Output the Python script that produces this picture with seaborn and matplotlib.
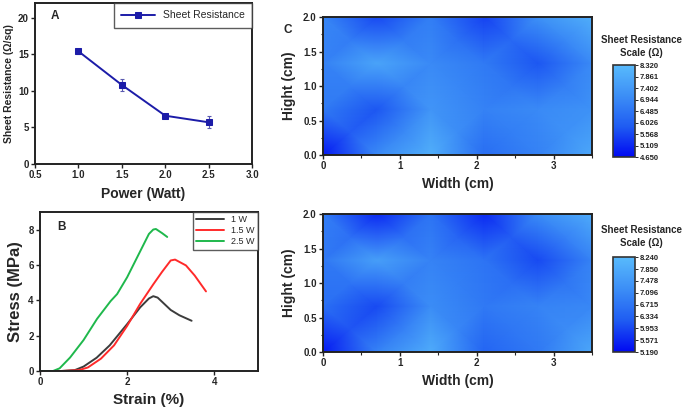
import numpy as np
import pandas as pd
import matplotlib
matplotlib.use('Agg')
import matplotlib.pyplot as plt
from matplotlib.colors import LinearSegmentedColormap
from matplotlib.ticker import AutoMinorLocator
import seaborn as sns

# Panel A - sheet resistance vs power
power = [1.0, 1.5, 2.0, 2.5]
sheet_res = [15.4, 10.8, 6.6, 5.7]
sheet_err = [0.3, 0.8, 0.2, 0.8]

# Panel B - stress-strain curves
strain_1w = [0.0, 0.5, 0.8, 1.0, 1.3, 1.6, 2.0, 2.3, 2.5, 2.6, 2.7, 2.85, 3.0, 3.2, 3.48]
stress_1w = [0.0, 0.0, 0.05, 0.25, 0.75, 1.45, 2.65, 3.6, 4.1, 4.23, 4.15, 3.8, 3.45, 3.15, 2.84]
strain_15w = [0.0, 0.5, 0.9, 1.1, 1.4, 1.7, 2.0, 2.3, 2.6, 2.8, 3.0, 3.1, 3.35, 3.55, 3.81]
stress_15w = [0.0, 0.0, 0.05, 0.2, 0.7, 1.45, 2.55, 3.8, 4.9, 5.6, 6.25, 6.3, 5.97, 5.4, 4.5]
strain_25w = [0.0, 0.3, 0.45, 0.69, 1.0, 1.31, 1.62, 1.77, 2.0, 2.31, 2.5, 2.6, 2.66, 2.8, 2.92]
stress_25w = [0.0, 0.0, 0.15, 0.76, 1.75, 2.95, 3.95, 4.35, 5.3, 6.82, 7.75, 8.0, 8.03, 7.8, 7.58]

# Panel C - sheet resistance maps
width_pts = [0.0, 0.7, 1.4, 2.1, 2.8, 3.5]
hight_pts = [0.0, 0.667, 1.333, 2.0]
map_top = [[4.9, 7.0, 8.0, 6.3, 6.8, 7.8],
           [6.6, 5.8, 7.3, 6.8, 7.0, 7.2],
           [6.8, 7.7, 7.0, 6.6, 5.8, 7.0],
           [6.9, 5.6, 6.7, 5.5, 7.2, 8.0]]
map_bottom = [[5.4, 7.0, 7.9, 6.4, 6.8, 7.8],
              [6.6, 6.0, 7.2, 6.8, 7.0, 7.1],
              [6.8, 7.6, 7.0, 6.7, 6.0, 7.0],
              [6.9, 5.6, 6.7, 5.6, 7.2, 7.9]]
range_top = (4.650, 8.320)
range_bottom = (5.190, 8.240)
ticks_top = ['4.650', '5.109', '5.568', '6.026', '6.485', '6.944', '7.402', '7.861', '8.320']
ticks_bottom = ['5.190', '5.571', '5.953', '6.334', '6.715', '7.096', '7.478', '7.850', '8.240']

sns.set_style('ticks')
plt.rcParams['font.family'] = ['Liberation Sans', 'DejaVu Sans']
plt.rcParams['xtick.direction'] = 'out'
plt.rcParams['ytick.direction'] = 'out'

fig = plt.figure(figsize=(6.85, 4.07), dpi=100)

def style_axes(ax, tick_size=7):
    for s in ax.spines.values():
        s.set_linewidth(1.4)
        s.set_color('#222222')
    ax.tick_params(labelsize=tick_size, width=1.0, length=3, color='#222222', pad=1.5)
    ax.tick_params(which='minor', width=0.8, length=1.8)
    for lab in ax.get_xticklabels() + ax.get_yticklabels():
        lab.set_fontweight('bold')

# ---- A ----
axA = fig.add_axes([0.0511, 0.597, 0.317, 0.3956])
dfA = pd.DataFrame({'Power': power, 'Sheet Resistance': sheet_res})
axA.errorbar(power, sheet_res, yerr=sheet_err, fmt='none', ecolor='#5a5ab0',
             elinewidth=0.8, capsize=1.5, capthick=0.8)
sns.lineplot(data=dfA, x='Power', y='Sheet Resistance', ax=axA, color='#1c1ca8',
             marker='s', markersize=4.5, markeredgecolor='#1c1ca8', linewidth=1.4,
             label='Sheet Resistance')
axA.set_xlim(0.5, 3.0)
axA.set_ylim(0, 22)
axA.set_xticks([0.5, 1.0, 1.5, 2.0, 2.5, 3.0])
axA.set_yticks([0, 5, 10, 15, 20])
axA.set_xlabel('Power (Watt)', fontsize=10, fontweight='bold', labelpad=5)
axA.set_ylabel('Sheet Resistance (Ω/sq)', fontsize=7.5, fontweight='bold', labelpad=3)
leg = axA.legend(loc='upper right', fontsize=7.5, frameon=True, fancybox=False,
                 borderaxespad=0, handlelength=3.2, borderpad=0.7)
leg.get_frame().set_edgecolor('#333333')
leg.get_frame().set_linewidth(1.0)
axA.text(0.07, 0.92, 'A', transform=axA.transAxes, fontsize=8.5, fontweight='bold',
         va='center')
style_axes(axA)

# ---- B ----
axB = fig.add_axes([0.0584, 0.0885, 0.318, 0.391])
dfB = pd.concat([
    pd.DataFrame({'Strain': strain_1w, 'Stress': stress_1w, 'Power': '1 W'}),
    pd.DataFrame({'Strain': strain_15w, 'Stress': stress_15w, 'Power': '1.5 W'}),
    pd.DataFrame({'Strain': strain_25w, 'Stress': stress_25w, 'Power': '2.5 W'}),
])
sns.lineplot(data=dfB, x='Strain', y='Stress', hue='Power', sort=False, estimator=None,
             palette=['#3c3c3c', '#ff2a2a', '#1fb84c'], linewidth=1.4, ax=axB)
axB.set_xlim(0, 5)
axB.set_ylim(0, 9)
axB.set_xticks([0, 2, 4])
axB.set_yticks([0, 2, 4, 6, 8])
axB.set_xlabel('Strain (%)', fontsize=11, fontweight='bold', labelpad=4)
axB.set_ylabel('Stress (MPa)', fontsize=12, fontweight='bold', labelpad=4)
legB = axB.legend(loc='upper right', fontsize=6.5, frameon=True, fancybox=False,
                  borderaxespad=0, handlelength=3.0, labelspacing=0.2, title=None)
legB.get_frame().set_edgecolor('#333333')
legB.get_frame().set_linewidth(1.0)
axB.text(0.08, 0.905, 'B', transform=axB.transAxes, fontsize=8.5, fontweight='bold',
         va='center')
style_axes(axB)

# ---- C ----
cmap = LinearSegmentedColormap.from_list(
    'sr', ['#0008f2', '#1f5cf2', '#3c8ef6', '#58bafc'])

def draw_map(rect, cbar_rect, values, vrange, tick_labels, title_y):
    ax = fig.add_axes(rect)
    X, Y = np.meshgrid(width_pts, hight_pts)
    ax.pcolormesh(X, Y, np.array(values), shading='gouraud', cmap=cmap,
                  vmin=vrange[0], vmax=vrange[1])
    ax.set_xlim(0, 3.5)
    ax.set_ylim(0, 2.0)
    ax.set_xticks([0, 1, 2, 3])
    ax.set_yticks([0.0, 0.5, 1.0, 1.5, 2.0])
    ax.xaxis.set_minor_locator(AutoMinorLocator(2))
    ax.yaxis.set_minor_locator(AutoMinorLocator(2))
    ax.set_xlabel('Width (cm)', fontsize=10, fontweight='bold', labelpad=4)
    ax.set_ylabel('Hight (cm)', fontsize=10, fontweight='bold', labelpad=5)
    style_axes(ax)
    cax = fig.add_axes(cbar_rect)
    sm = plt.cm.ScalarMappable(cmap=cmap, norm=plt.Normalize(*vrange))
    cb = fig.colorbar(sm, cax=cax)
    cb.set_ticks(np.linspace(vrange[0], vrange[1], len(tick_labels)))
    cb.set_ticklabels(tick_labels)
    cb.ax.tick_params(labelsize=5.5, length=2, width=0.7, pad=1.5)
    for lab in cb.ax.get_yticklabels():
        lab.set_fontweight('bold')
        lab.set_color('#222222')
    cb.outline.set_edgecolor('#333333')
    cb.outline.set_linewidth(1.2)
    fig.text(0.936, title_y, 'Sheet Resistance\nScale (Ω)', ha='center', va='center',
             fontsize=7, fontweight='bold', linespacing=1.35)
    return ax

draw_map([0.4715, 0.619, 0.3927, 0.339], [0.895, 0.614, 0.032, 0.226],
         map_top, range_top, ticks_top, 0.886)
draw_map([0.4715, 0.135, 0.3927, 0.339], [0.895, 0.135, 0.032, 0.233],
         map_bottom, range_bottom, ticks_bottom, 0.419)
fig.text(0.414, 0.926, 'C', fontsize=8.5, fontweight='bold', va='center')

fig.savefig('out.png', dpi=100)
